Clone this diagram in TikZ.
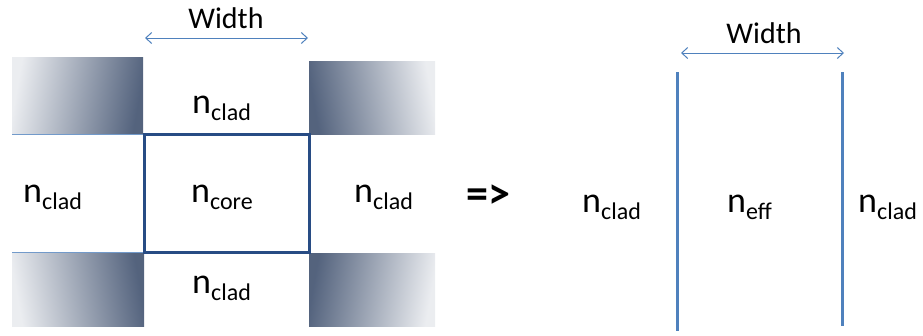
\documentclass[tikz,border=0pt]{standalone}
\usepackage{fontspec}
\setmainfont{Carlito}
\usetikzlibrary{arrows.meta}
\definecolor{officeblue}{RGB}{79,129,189}
\definecolor{coreblue}{RGB}{40,76,132}
\definecolor{slate}{RGB}{88,104,132}
\newcommand{\idx}[1]{n\raisebox{-7pt}{\fontsize{24}{24}\selectfont #1}}
\tikzset{
  lbl/.style={anchor=base west, inner sep=0pt, font=\fontsize{36}{40}\selectfont},
  wlbl/.style={anchor=base, inner sep=0pt, font=\fontsize{30}{34}\selectfont},
  dim/.style={draw=officeblue, line width=1pt, {Straight Barb[length=6pt,width=11pt]}-{Straight Barb[length=6pt,width=11pt]}},
  wall/.style={draw=officeblue, line width=3pt},
  clad/.style={shading=axis, top color=slate!12, middle color=slate!52, bottom color=slate!95!black},
  edge/.style={draw=officeblue!80, line width=1pt}
}
\begin{document}
\begin{tikzpicture}[x=1pt, y=-1pt]
  \useasboundingbox (0,0) rectangle (923,335);

  % cladding corner blocks, darkest at the corner touching the core
  \shade[clad, shading angle=80]   (12,57)  rectangle (143,134);
  \shade[clad, shading angle=-80]  (309,61) rectangle (435,134);
  \shade[clad, shading angle=100]  (12,252) rectangle (144,326);
  \shade[clad, shading angle=-100] (309,253) rectangle (435,326);
  \draw[edge] (12,134) -- (144,134);
  \draw[edge] (12,252) -- (144,252);

  % core of the rectangular guide
  \draw[coreblue, line width=3pt] (144,134) rectangle (309,252);

  % width of the rectangular guide
  \coordinate (wl1) at (145,38);
  \coordinate (wr1) at (308,38);
  \draw[dim] (wl1) -- (wr1);
  \node[wlbl] (w1) at (226,28) {Width};

  \node[lbl] (ctop)   at (192,113) {\idx{clad}};
  \node[lbl] (cleft)  at (23,202)  {\idx{clad}};
  \node[lbl] (core)   at (191,202) {\idx{core}};
  \node[lbl] (cright) at (354,202) {\idx{clad}};
  \node[lbl] (cbot)   at (192,293) {\idx{clad}};

  \node[anchor=base west, inner sep=0pt, font=\fontsize{44}{48}\selectfont\bfseries] (impl) at (466,208) {=>};

  % equivalent slab guide
  \coordinate (s1t) at (677,72);
  \coordinate (s1b) at (677,331);
  \coordinate (s2t) at (842,72);
  \coordinate (s2b) at (842,326);
  \draw[wall] (s1t) -- (s1b);
  \draw[wall] (s2t) -- (s2b);
  \coordinate (wl2) at (681,53);
  \coordinate (wr2) at (844,53);
  \draw[dim] (wl2) -- (wr2);
  \node[wlbl] (w2) at (764,43) {Width};

  \node[lbl] (sleft)  at (582,212) {\idx{clad}};
  \node[lbl] (seff)   at (727,212) {\idx{eff}};
  \node[lbl] (sright) at (858,212) {\idx{clad}};
\end{tikzpicture}
\end{document}
